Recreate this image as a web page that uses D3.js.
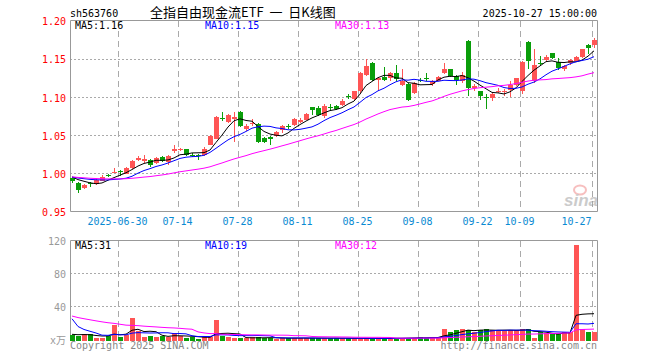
<!DOCTYPE html>
<html lang="zh-CN">
<head>
<meta charset="UTF-8">
<title>全指自由现金流ETF 日K线图</title>
<script src="https://d3js.org/d3.v7.min.js"></script>
<style>
  body { margin: 0; background: #fff; }
  svg text { font-family: "DejaVu Sans Mono", "Liberation Mono", monospace; font-size: 10px; }
</style>
</head>
<body>
<div id="chart"></div>
<script>
const dates = [
  "2025-06-18","2025-06-19","2025-06-20","2025-06-23","2025-06-24","2025-06-25","2025-06-26","2025-06-27","2025-06-30",
  "2025-07-01","2025-07-02","2025-07-03","2025-07-04","2025-07-07","2025-07-08","2025-07-09","2025-07-10","2025-07-11",
  "2025-07-14","2025-07-15","2025-07-16","2025-07-17","2025-07-18","2025-07-21","2025-07-22","2025-07-23","2025-07-24",
  "2025-07-25","2025-07-28","2025-07-29","2025-07-30","2025-07-31","2025-08-01","2025-08-04","2025-08-05","2025-08-06",
  "2025-08-07","2025-08-08","2025-08-11","2025-08-12","2025-08-13","2025-08-14","2025-08-15","2025-08-18","2025-08-19",
  "2025-08-20","2025-08-21","2025-08-22","2025-08-25","2025-08-26","2025-08-27","2025-08-28","2025-08-29","2025-09-01",
  "2025-09-02","2025-09-03","2025-09-04","2025-09-05","2025-09-08","2025-09-09","2025-09-10","2025-09-11","2025-09-12",
  "2025-09-15","2025-09-16","2025-09-17","2025-09-18","2025-09-19","2025-09-22","2025-09-23","2025-09-24","2025-09-25",
  "2025-09-26","2025-09-29","2025-09-30","2025-10-09","2025-10-10","2025-10-13","2025-10-14","2025-10-15","2025-10-16",
  "2025-10-17","2025-10-20","2025-10-21","2025-10-22","2025-10-23","2025-10-24","2025-10-27"
];

const opens = [
  0.993,0.987,0.980,0.987,0.985,0.990,0.997,1.000,1.003,0.999,
  1.006,1.017,1.015,1.017,1.0135,1.021,1.014,1.029,1.031,1.031,
  1.024,1.024,1.024,1.037,1.045,1.072,1.067,1.071,1.080,1.057,
  1.064,1.064,1.046,1.047,1.048,1.056,1.061,1.063,1.067,1.070,
  1.086,1.085,1.075,1.086,1.088,1.089,1.101,1.097,1.107,1.129,
  1.144,1.122,1.126,1.124,1.131,1.115,1.117,1.105,1.122,1.125,
  1.117,1.121,1.131,1.136,1.127,1.120,1.173,1.112,1.107,1.099,
  1.098,1.107,1.106,1.109,1.115,1.107,1.172,1.121,1.144,1.148,
  1.157,1.146,1.136,1.144,1.147,1.152,1.168,1.168
];
const highs = [
  0.995,0.988,0.985,0.988,0.993,0.997,0.998,1.007,1.004,1.008,
  1.017,1.022,1.023,1.018,1.021,1.022,1.023,1.037,1.033,1.032,
  1.026,1.025,1.034,1.050,1.075,1.080,1.077,1.080,1.081,1.064,
  1.071,1.065,1.047,1.048,1.055,1.063,1.064,1.072,1.072,1.079,
  1.087,1.088,1.090,1.090,1.089,1.097,1.104,1.108,1.132,1.150,
  1.145,1.126,1.139,1.133,1.142,1.136,1.118,1.119,1.125,1.131,
  1.122,1.127,1.144,1.137,1.128,1.132,1.174,1.117,1.108,1.104,
  1.105,1.112,1.110,1.120,1.125,1.147,1.173,1.162,1.153,1.155,
  1.158,1.151,1.141,1.149,1.153,1.163,1.169,1.177
];
const lows = [
  0.987,0.973,0.979,0.982,0.984,0.989,0.994,1.000,0.996,0.998,
  1.005,1.015,1.013,1.008,1.012,1.014,1.010,1.026,1.029,1.022,
  1.021,1.017,1.022,1.036,1.044,1.068,1.066,1.040,1.060,1.055,
  1.061,1.039,1.039,1.037,1.047,1.052,1.057,1.062,1.066,1.069,
  1.076,1.075,1.072,1.082,1.083,1.088,1.097,1.095,1.105,1.127,
  1.120,1.107,1.120,1.120,1.121,1.114,1.094,1.103,1.119,1.121,
  1.114,1.120,1.130,1.126,1.115,1.118,1.101,1.108,1.096,1.084,
  1.095,1.105,1.101,1.100,1.114,1.104,1.136,1.118,1.140,1.146,
  1.150,1.135,1.134,1.142,1.145,1.151,1.156,1.164
];
const closes = [
  0.990,0.978,0.984,0.986,0.991,0.995,0.996,1.001,1.002,1.007,
  1.016,1.019,1.018,1.011,1.019,1.015,1.022,1.031,1.032,1.023,
  1.023,1.023,1.032,1.049,1.073,1.071,1.076,1.073,1.062,1.062,
  1.066,1.041,1.041,1.045,1.054,1.062,1.060,1.071,1.070,1.077,
  1.083,1.076,1.088,1.085,1.084,1.095,1.100,1.107,1.131,1.140,
  1.122,1.125,1.122,1.131,1.123,1.120,1.096,1.118,1.121,1.124,
  1.121,1.126,1.136,1.127,1.122,1.128,1.111,1.114,1.101,1.098,
  1.104,1.108,1.107,1.115,1.124,1.146,1.147,1.142,1.143,1.152,
  1.151,1.138,1.140,1.148,1.152,1.162,1.164,1.175
];
// volume, 万
const volumes = [
  4.8,3.6,6,6,1,1.6,4,17,2,4.8,
  25.5,10,3,4,2,4,3,6.9,3.6,0.8,
  2.4,0.5,3.6,3,23,3.6,2,1,1,1,
  2,2.4,1,1.6,0.5,1,1.2,1,1.4,0.8,
  1,1.3,0.8,1,0.9,0.7,1,0.8,0.6,0.7,
  0.5,0.8,0.6,1.2,1,0.8,1.6,1.6,2.4,1.2,
  2.4,1.5,12,8,11,12,11,9,11,12,
  11,10,10,11,11,12,12,1,9,7.6,
  5.6,6.5,8,9,115,12,9,9
];

// sessions before the visible window (only feed the moving averages)
const preCloses = [
  1.000,1.001,1.003,1.002,1.004,1.001,1.000,1.002,1.001,1.000,
  0.996,0.993,0.990,0.987,0.985,0.984,0.986,0.988,0.989,0.988,
  0.990,0.993,0.995,0.996,0.997,0.996,0.995,0.996,0.997
];
const preVolumes = [
  60,48,45,40,38,36,40,35,37,34,
  20,22,18,16,19,17,15,18,20,15,
  98,42,28,22,28,6,5,7,5.7
];

const tickDates = ["2025-06-30","2025-07-14","2025-07-28","2025-08-11","2025-08-25","2025-09-08","2025-09-22","2025-10-09","2025-10-27"];
const tickLabels = ["2025-06-30","07-14","07-28","08-11","08-25","09-08","09-22","10-09","10-27"];
const priceTicks = [1.20, 1.15, 1.10, 1.05, 1.00, 0.95];
const priceGrid = [1.15, 1.10, 1.05, 1.00];
const volTicks = [120, 80, 40];
const volGrid = [80, 40];
const maPeriods = [5, 10, 30];
const maColors = ["#000000", "#0000ff", "#ff00ff"];

const W = 660, H = 360;
const left = 70, right = 597;
const up = "#ff5555", down = "#0a9e0a";

const svg = d3.select("#chart").append("svg")
    .attr("width", W)
    .attr("height", H)
    .style("display", "block");

const x = d3.scaleBand().domain(dates).range([69, 597]);
const y = d3.scaleLinear().domain([0.95, 1.20]).range([211, 20.5]);
const yv = d3.scaleLinear().domain([0, 120]).range([339, 240.5]);

function movingAvg(hist, vals, n) {
    const all = hist.concat(vals);
    return vals.map((_, i) => d3.mean(all.slice(i + hist.length - n + 1, i + hist.length + 1)));
}

const days = dates.map((d, i) => ({
    date: d, o: opens[i], h: highs[i], l: lows[i], c: closes[i], v: volumes[i]
}));
const priceMA = maPeriods.map(n => movingAvg(preCloses, closes, n));
const volMA = maPeriods.map(n => movingAvg(preVolumes, volumes, n));

// header
svg.append("text").attr("x", 70).attr("y", 16.5).text("sh563760");
svg.append("text").attr("x", 150).attr("y", 17)
    .style("font-family", "'Noto Sans CJK SC', sans-serif")
    .style("font-size", "13px")
    .style("white-space", "pre")
    .text("全指自由现金流ETF  一  日K线图");
svg.append("text").attr("x", 597).attr("y", 16.5).attr("text-anchor", "end")
    .text("2025-10-27 15:00:00");

// grids
function grid(g, top, bottom, hvals, yscale) {
    g.selectAll(".vg").data(tickDates).enter().append("line")
        .attr("x1", d => x(d) + 1.5).attr("x2", d => x(d) + 1.5)
        .attr("y1", top).attr("y2", bottom)
        .attr("stroke", "#aaa").attr("stroke-dasharray", "6,4");
    g.selectAll(".hg").data(hvals).enter().append("line")
        .attr("x1", left).attr("x2", right)
        .attr("y1", d => Math.round(yscale(d)) + 0.5).attr("y2", d => Math.round(yscale(d)) + 0.5)
        .attr("stroke", "#aaa").attr("stroke-dasharray", "2,2");
}
grid(svg.append("g"), 21, 211, priceGrid, y);
grid(svg.append("g"), 241, 340, volGrid, yv);

// sina watermark
const wm = svg.append("g").attr("opacity", 0.5);
wm.append("ellipse").attr("cx", 580).attr("cy", 190).attr("rx", 6).attr("ry", 4.5)
    .attr("fill", "none").attr("stroke", "#f08080").attr("stroke-width", 2);
wm.append("text").attr("x", 564).attr("y", 206)
    .style("font-family", "'Liberation Sans', sans-serif")
    .style("font-size", "17px").style("font-style", "italic").style("font-weight", "bold")
    .attr("fill", "#999").text("sina");

// frames
svg.append("path")
    .attr("d", `M${left + 0.5},20.5H${right + 0.5}V211.5H${left + 0.5}Z`)
    .attr("fill", "none").attr("stroke", "#999");
svg.append("path")
    .attr("d", `M${left + 0.5},341V240.5H${right + 0.5}V341`)
    .attr("fill", "none").attr("stroke", "#999");

// candles
const candles = svg.append("g").attr("shape-rendering", "crispEdges");
candles.selectAll("line").data(days).enter().append("line")
    .attr("x1", d => x(d.date) + 3.5).attr("x2", d => x(d.date) + 3.5)
    .attr("y1", d => y(d.h)).attr("y2", d => y(d.l))
    .attr("stroke", d => d.c >= d.o ? up : down);
candles.selectAll("rect").data(days).enter().append("rect")
    .attr("x", d => x(d.date) + 1)
    .attr("width", 5)
    .attr("y", d => y(Math.max(d.o, d.c)))
    .attr("height", d => Math.max(1, Math.abs(y(d.o) - y(d.c))))
    .attr("fill", d => d.c >= d.o ? up : down);

// volume bars
svg.append("g").attr("shape-rendering", "crispEdges")
    .selectAll("rect").data(days).enter().append("rect")
    .attr("x", d => x(d.date) + 1)
    .attr("width", 5)
    .attr("y", d => yv(d.v))
    .attr("height", d => 341 - yv(d.v))
    .attr("fill", d => d.c >= d.o ? up : down);

// moving averages
priceMA.forEach((vals, k) => {
    svg.append("path").datum(vals)
        .attr("fill", "none").attr("stroke", maColors[k]).attr("stroke-width", 1)
        .attr("d", d3.line().x((v, i) => x(dates[i]) + 3).y(v => y(v)));
});
volMA.forEach((vals, k) => {
    svg.append("path").datum(vals)
        .attr("fill", "none").attr("stroke", maColors[k]).attr("stroke-width", 1)
        .attr("d", d3.line().x((v, i) => x(dates[i]) + 3).y(v => yv(v)));
});

// legends
const legX = [75, 205, 335];
maPeriods.forEach((n, k) => {
    const last = priceMA[k][priceMA[k].length - 1];
    svg.append("text").attr("x", legX[k]).attr("y", 29).attr("fill", maColors[k])
        .text(`MA${n}:${d3.format(".2f")(last)}`);
    const lastV = volMA[k][volMA[k].length - 1];
    svg.append("text").attr("x", legX[k]).attr("y", 249).attr("fill", maColors[k])
        .text(`MA${n}:${d3.format(".0f")(lastV)}`);
});

// axes
const yAxis = svg.append("g").attr("transform", `translate(${left},0.5)`)
    .call(d3.axisLeft(y).tickValues(priceTicks).tickSize(0).tickPadding(4).tickFormat(d3.format(".2f")));
yAxis.select(".domain").remove();
yAxis.selectAll("text").attr("fill", "#ff0000").attr("dy", "0.38em");

const vAxis = svg.append("g").attr("transform", `translate(${left},0.5)`)
    .call(d3.axisLeft(yv).tickValues(volTicks).tickSize(0).tickPadding(4));
vAxis.select(".domain").remove();
vAxis.selectAll("text").attr("fill", "#999").attr("dy", "0.38em");
svg.append("text").attr("x", 66).attr("y", 344).attr("text-anchor", "end")
    .attr("fill", "#999").text("x万");

const xAxis = svg.append("g").attr("transform", "translate(-2.5,211)")
    .call(d3.axisBottom(x).tickValues(tickDates).tickSize(0).tickPadding(7)
        .tickFormat((d, i) => tickLabels[i]));
xAxis.select(".domain").remove();
xAxis.selectAll("text").attr("fill", "#0a8ad2")
    .filter((d, i, n) => i === n.length - 1).attr("text-anchor", "end");

// footer
svg.append("text").attr("x", 70).attr("y", 349).attr("fill", "#888").text("Copyright 2025 SINA.COM");
svg.append("text").attr("x", 597).attr("y", 349).attr("text-anchor", "end").attr("fill", "#888")
    .text("http://finance.sina.com.cn");
</script>
</body>
</html>
